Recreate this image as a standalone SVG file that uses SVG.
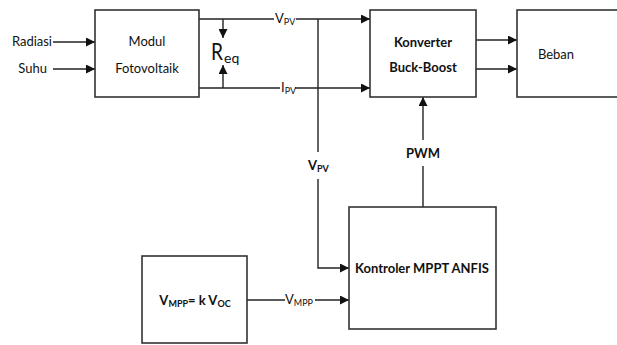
<svg xmlns="http://www.w3.org/2000/svg" width="617" height="345" viewBox="0 0 617 345">
<style>
.box{fill:#fff;stroke:#333;stroke-width:1.6}
.ln{fill:none;stroke:#222;stroke-width:1.4}
.t{font-family:Lato,"Liberation Sans",sans-serif;font-size:13px;fill:#111}
.b{font-weight:bold}
.s{font-size:9px}
</style>
<defs>
<marker id="ah" viewBox="0 0 10 10" refX="10" refY="5" markerWidth="9" markerHeight="9" markerUnits="userSpaceOnUse" orient="auto">
<path d="M0,0 L10,5 L0,10 z" fill="#111"/>
</marker>
</defs>
<rect width="617" height="345" fill="#fff"/>
<g id="connectors">
<path class="ln" d="M53,42 H95" marker-end="url(#ah)"/>
<path class="ln" d="M53,69 H95" marker-end="url(#ah)"/>
<path class="ln" d="M199,19 H274"/>
<path class="ln" d="M296,19 H370" marker-end="url(#ah)"/>
<path class="ln" d="M199,88 H280"/>
<path class="ln" d="M295,88 H370" marker-end="url(#ah)"/>
<path class="ln" d="M223,19 V38" marker-end="url(#ah)"/>
<path class="ln" d="M223,88 V65" marker-end="url(#ah)"/>
<path class="ln" d="M318,19 V152"/>
<path class="ln" d="M318,179 V268 H349" marker-end="url(#ah)"/>
<path class="ln" d="M423,207 V166"/>
<path class="ln" d="M423,140 V97" marker-end="url(#ah)"/>
<path class="ln" d="M476,40 H517" marker-end="url(#ah)"/>
<path class="ln" d="M476,69 H517" marker-end="url(#ah)"/>
<path class="ln" d="M247,300 H285"/>
<path class="ln" d="M315,300 H349" marker-end="url(#ah)"/>
</g>
<g id="labels">
<text class="t" x="52" y="46" text-anchor="end">Radiasi</text>
<text class="t" x="47" y="73" text-anchor="end">Suhu</text>
<text class="t" x="275" y="23">V<tspan class="s" dy="2">PV</tspan></text>
<text class="t" x="281" y="92">I<tspan class="s" dy="2">PV</tspan></text>
<text class="t" x="211" y="60" style="font-size:23px" textLength="12" lengthAdjust="spacingAndGlyphs">R</text>
<text class="t" x="224" y="63" style="font-size:14px">eq</text>
<text class="t b" x="308" y="170">V<tspan class="s" dy="2">PV</tspan></text>
<text class="t b" x="423" y="158" text-anchor="middle">PWM</text>
<text class="t" x="285" y="304">V<tspan class="s" dy="2">MPP</tspan></text>
</g>
<g id="modul">
<rect class="box" x="95" y="10" width="104" height="87"/>
<text class="t" x="147" y="46" text-anchor="middle">Modul</text>
<text class="t" x="147" y="73" text-anchor="middle">Fotovoltaik</text>
</g>
<g id="konverter">
<rect class="box" x="370" y="10" width="106" height="87"/>
<text class="t b" x="423" y="47" text-anchor="middle">Konverter</text>
<text class="t b" x="423" y="72" text-anchor="middle">Buck-Boost</text>
</g>
<g id="beban">
<rect class="box" x="517" y="10" width="110" height="87"/>
<text class="t" x="556" y="59" text-anchor="middle">Beban</text>
</g>
<g id="kontroler">
<rect class="box" x="349" y="207" width="147" height="122"/>
<text class="t b" x="422" y="273" text-anchor="middle">Kontroler MPPT ANFIS</text>
</g>
<g id="vmpp">
<rect class="box" x="142" y="256" width="105" height="87"/>
<text class="t b" x="195" y="305" text-anchor="middle">V<tspan class="s" dy="2">MPP</tspan><tspan dy="-2">= k V</tspan><tspan class="s" dy="2">OC</tspan></text>
</g>
</svg>
